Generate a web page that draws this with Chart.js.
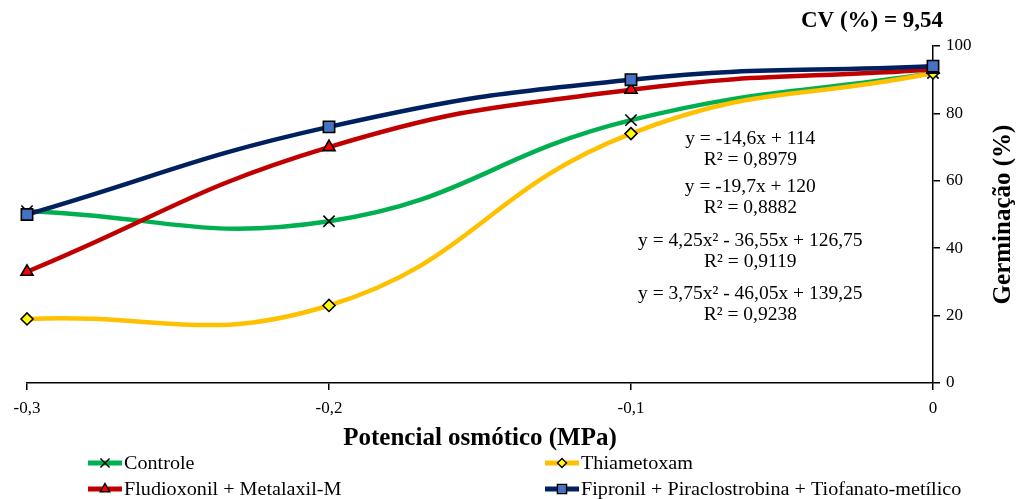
<!DOCTYPE html>
<html>
<head>
<meta charset="utf-8">
<script src="https://cdn.jsdelivr.net/npm/chart.js@4"></script>
<style>
  html, body { margin: 0; padding: 0; background: #fff; }
  #wrap { width: 1018px; height: 499px; }
</style>
</head>
<body>
<div id="wrap"><canvas id="chart" width="1018" height="499"></canvas></div>
<script>
const potencial = [-0.3, -0.2, -0.1, 0];
const controle = [51, 48, 78, 92];
const thiametoxam = [19, 23, 74, 92];
const fludioxonil = [33, 70, 87, 93];
const fipronil = [50, 76, 90, 94];
const yTicks = [0, 20, 40, 60, 80, 100];

const equations = [
    'y = -14,6x + 114', 'R² = 0,8979',
    'y = -19,7x + 120', 'R² = 0,8882',
    'y = 4,25x² - 36,55x + 126,75', 'R² = 0,9119',
    'y = 3,75x² - 46,05x + 139,25', 'R² = 0,9238'
];

const serif = '"Liberation Serif", "Times New Roman", serif';

const colors = {
    green: '#00b050',
    gold: '#ffc000',
    red: '#c00000',
    navy: '#002060'
};

const toPoints = vals => vals.map((v, i) => ({x: potencial[i], y: v}));

function serie(label, vals, color, style, fill, radius, order) {
    return {
        label: label,
        data: toPoints(vals),
        borderColor: color,
        backgroundColor: color,
        borderWidth: 4.5,
        tension: 0.45,
        pointStyle: style,
        pointRadius: radius,
        pointBackgroundColor: fill,
        pointBorderColor: '#000',
        pointBorderWidth: 1.6,
        clip: false,
        order: order
    };
}

const datasets = [
    serie('Controle', controle, colors.green, 'crossRot', '#000', 8, 4),
    serie('Thiametoxam', thiametoxam, colors.gold, 'rectRot', '#ffff00', 6, 3),
    serie('Fludioxonil + Metalaxil-M', fludioxonil, colors.red, 'triangle', '#ff0000', 7, 2),
    serie('Fipronil + Piraclostrobina + Tiofanato-metílico', fipronil, colors.navy, 'rect', '#4472c4', 8, 1)
];

function drawMarker(ctx, style, r, cx, cy) {
    Chart.helpers.drawPoint(ctx, {pointStyle: style, radius: r, rotation: 0, borderWidth: 1.4}, cx, cy);
}

// textos extras: CV, titulo do eixo y, equacoes e legenda em duas colunas
const extras = {
    id: 'extras',
    afterDraw(chart) {
        const ctx = chart.ctx;
        const x = chart.scales.x;
        const y = chart.scales.y;
        ctx.save();
        ctx.fillStyle = '#000';
        ctx.textBaseline = 'middle';

        ctx.font = 'bold 23px ' + serif;
        ctx.textAlign = 'center';
        ctx.fillText('CV (%) = 9,54', 872, 21);

        ctx.save();
        ctx.font = 'bold 25px ' + serif;
        ctx.translate(1004, (y.top + y.bottom) / 2);
        ctx.rotate(-Math.PI / 2);
        ctx.fillText('Germinação (%)', 0, 0);
        ctx.restore();

        ctx.font = '19.5px ' + serif;
        const ex = x.getPixelForValue(-0.0605);
        const lineY = [139, 160, 187, 208, 241, 262, 294, 315];
        equations.forEach((t, i) => ctx.fillText(t, ex, lineY[i]));

        // legenda
        ctx.font = '18px ' + serif;
        ctx.textAlign = 'left';
        const cols = [88, 545];
        const rows = [463, 489];
        chart.data.datasets.forEach((ds, i) => {
            const lx = cols[i % 2];
            const ly = rows[Math.floor(i / 2)];
            ctx.strokeStyle = ds.borderColor;
            ctx.lineWidth = 5;
            ctx.beginPath();
            ctx.moveTo(lx, ly);
            ctx.lineTo(lx + 34, ly);
            ctx.stroke();
            ctx.fillStyle = ds.pointBackgroundColor;
            ctx.strokeStyle = '#000';
            ctx.lineWidth = 1.4;
            drawMarker(ctx, ds.pointStyle, ds.pointRadius - 1.5, lx + 17, ly);
            ctx.fillStyle = '#000';
            ctx.save();
            ctx.translate(lx + 36, ly + 1);
            ctx.scale(1.12, 1);
            ctx.fillText(ds.label, 0, 0);
            ctx.restore();
        });
        ctx.restore();
    }
};

new Chart(document.getElementById('chart'), {
    type: 'line',
    data: { datasets: datasets },
    plugins: [extras],
    options: {
        responsive: false,
        animation: false,
        layout: { padding: { left: 27, top: 46, right: 0, bottom: 41 } },
        plugins: {
            legend: { display: false },
            tooltip: { enabled: false }
        },
        scales: {
            x: {
                type: 'linear',
                min: -0.3,
                max: 0,
                afterFit: s => { s.height = 75; },
                afterBuildTicks: s => { s.ticks = potencial.map(v => ({value: v})); },
                grid: { drawOnChartArea: false, drawTicks: true, tickLength: 7, color: '#000', lineWidth: 1.5 },
                border: { color: '#000', width: 1.5 },
                ticks: {
                    color: '#000',
                    font: { family: serif, size: 17 },
                    padding: 8,
                    maxRotation: 0,
                    callback: v => v === 0 ? '0' : v.toFixed(1).replace('.', ',')
                },
                title: {
                    display: true,
                    text: 'Potencial osmótico (MPa)',
                    color: '#000',
                    font: { family: serif, size: 25, weight: 'bold' },
                    padding: { top: 0 }
                }
            },
            y: {
                position: 'right',
                min: 0,
                max: 100,
                afterFit: s => { s.width = 85; },
                afterBuildTicks: s => { s.ticks = yTicks.map(v => ({value: v})); },
                grid: { drawOnChartArea: false, drawTicks: true, tickLength: 7, color: '#000', lineWidth: 1.5 },
                border: { color: '#000', width: 1.5 },
                ticks: {
                    color: '#000',
                    font: { family: serif, size: 17 },
                    padding: 6
                }
            }
        }
    }
});
</script>
</body>
</html>
